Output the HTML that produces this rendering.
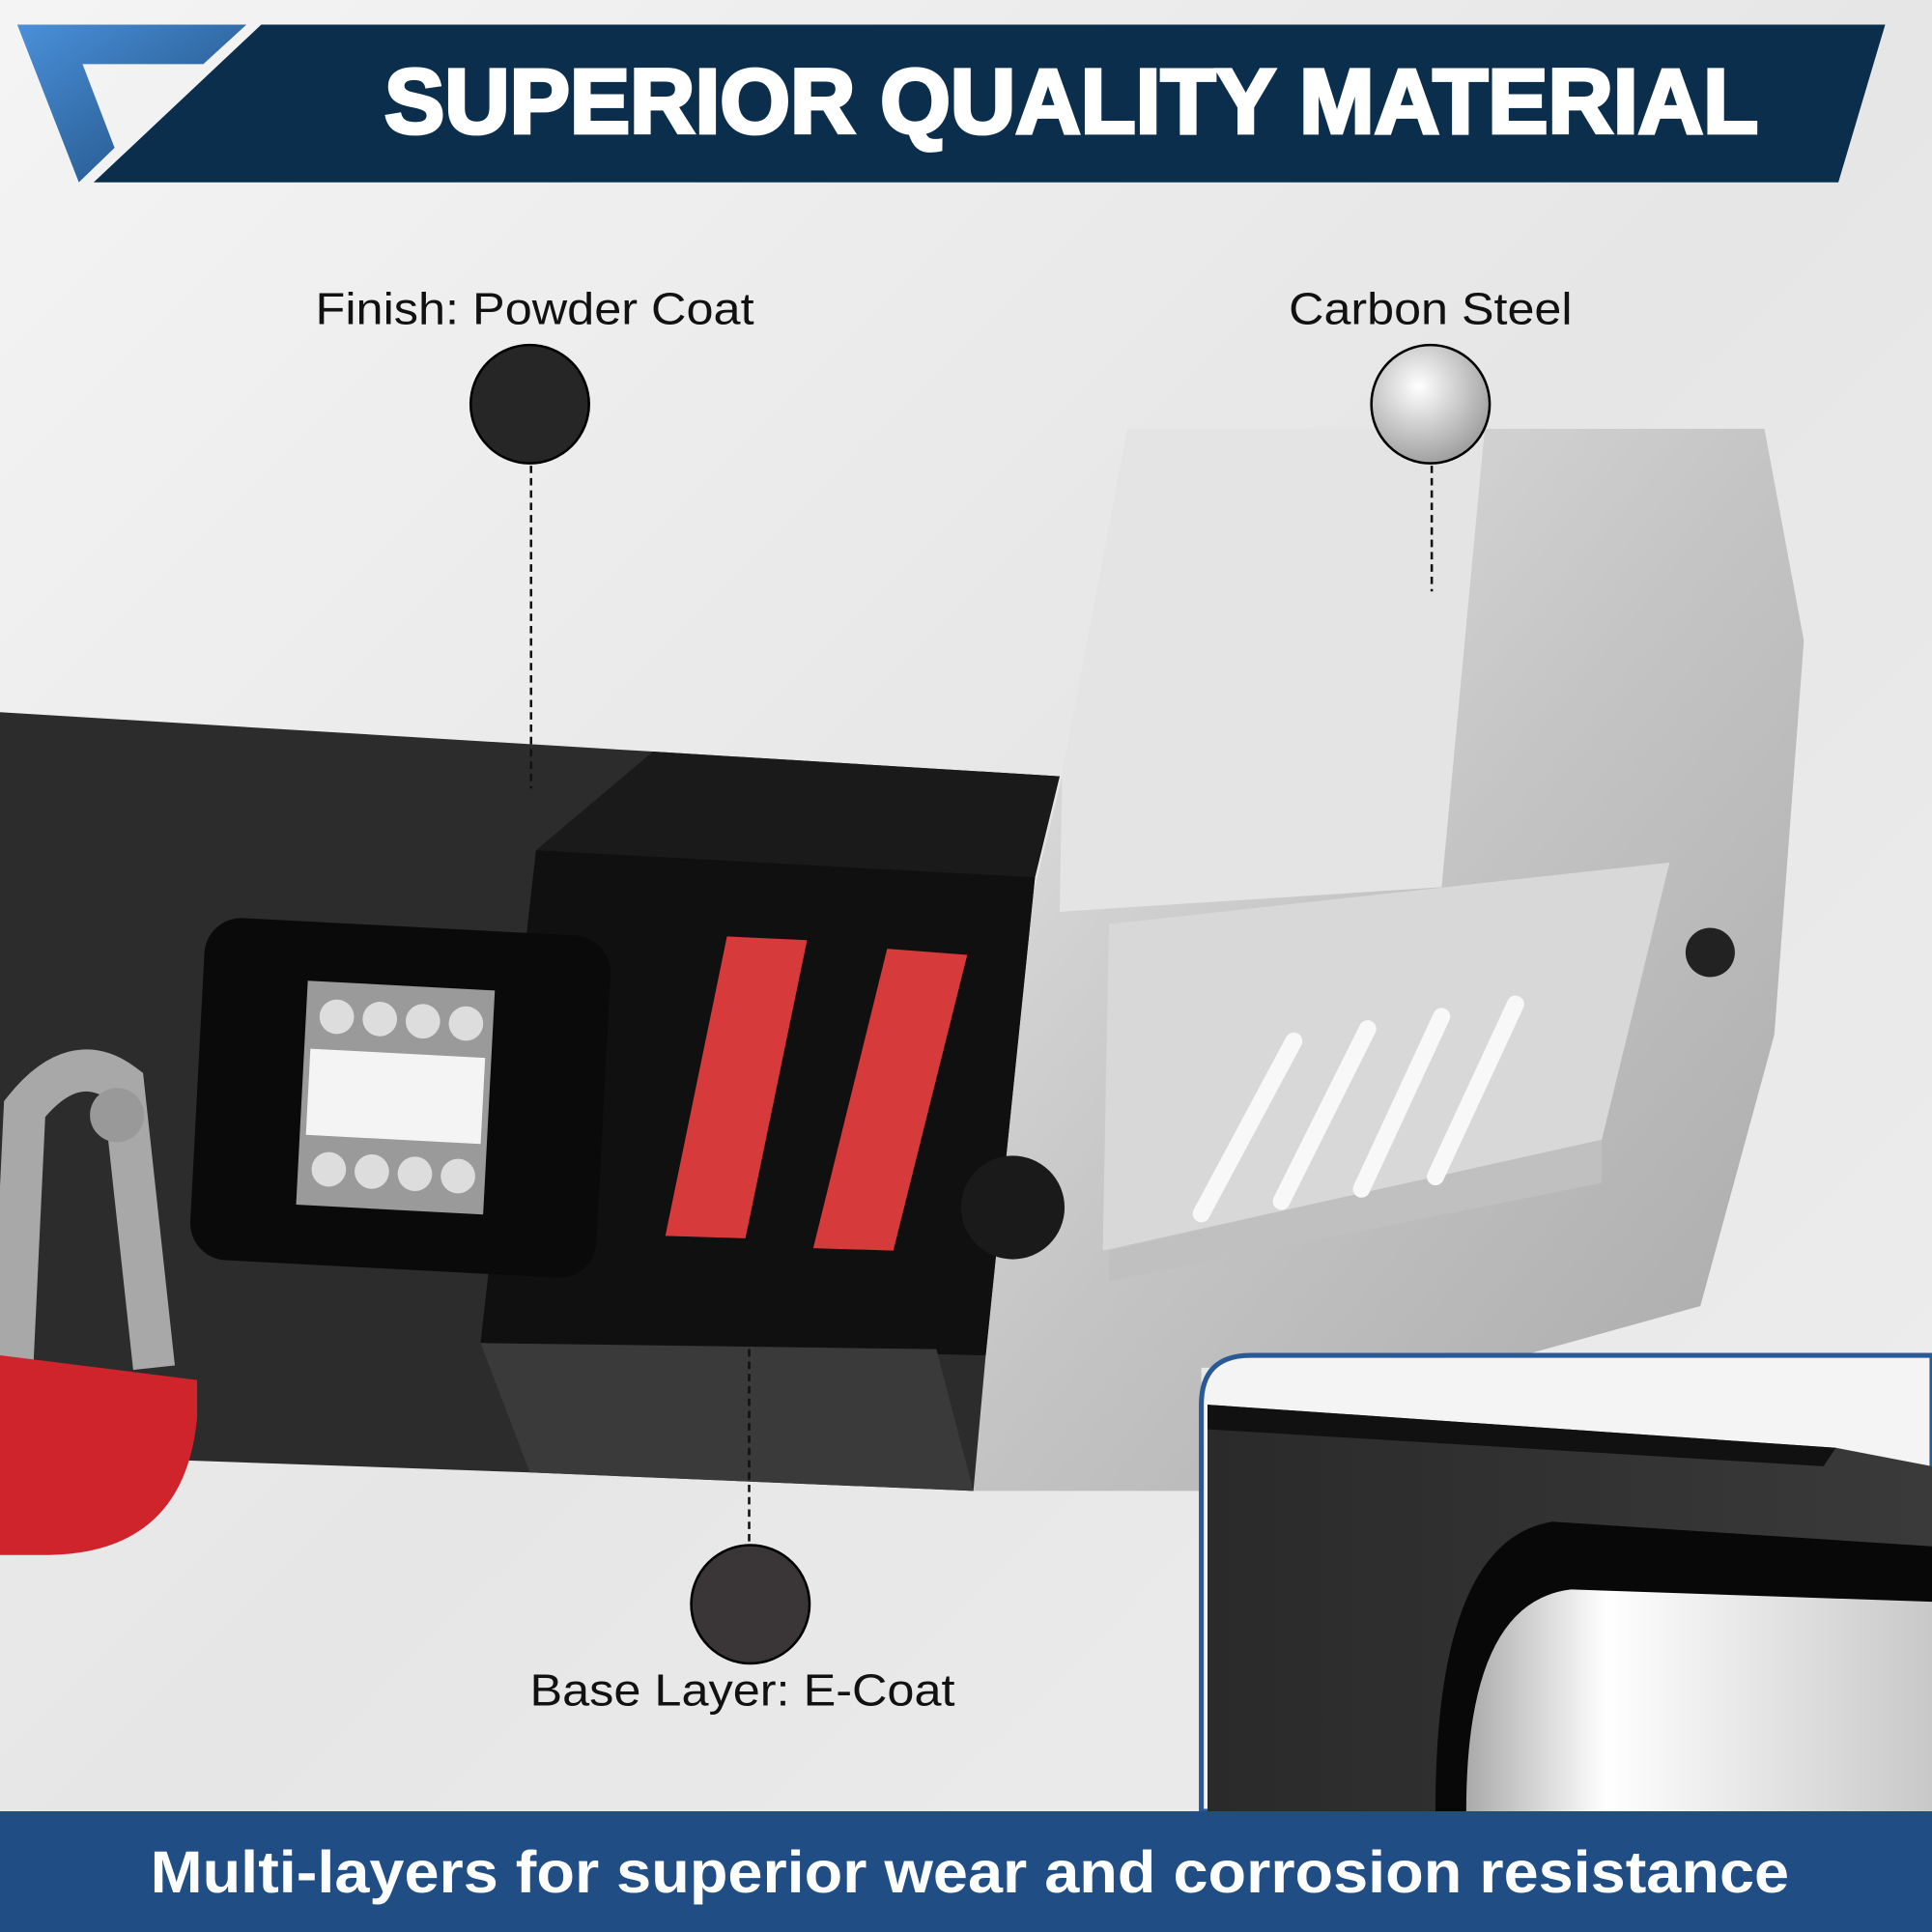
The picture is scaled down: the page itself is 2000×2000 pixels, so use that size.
<!DOCTYPE html>
<html><head><meta charset="utf-8"><style>html,body{margin:0;padding:0;background:#eee}svg{display:block}</style></head>
<body>
<svg width="2000" height="2000" viewBox="0 0 1568 1568" xmlns="http://www.w3.org/2000/svg">
<defs>
<linearGradient id="bg" x1="0" y1="0" x2="1" y2="1"><stop offset="0" stop-color="#f4f4f4"/><stop offset="0.5" stop-color="#e6e6e6"/><stop offset="1" stop-color="#eeeeee"/></linearGradient>
<linearGradient id="blue" x1="0" y1="0" x2="1" y2="1"><stop offset="0" stop-color="#4a90d9"/><stop offset="1" stop-color="#1c4a7a"/></linearGradient>
<linearGradient id="silver" x1="0" y1="0" x2="1" y2="1"><stop offset="0" stop-color="#e8e8e8"/><stop offset="0.5" stop-color="#c4c4c4"/><stop offset="1" stop-color="#a8a8a8"/></linearGradient>
<radialGradient id="c2" cx="0.4" cy="0.35" r="0.7"><stop offset="0" stop-color="#ffffff"/><stop offset="1" stop-color="#9a9a9a"/></radialGradient>
<linearGradient id="ins" x1="0" y1="0" x2="1" y2="0"><stop offset="0" stop-color="#2a2a2a"/><stop offset="1" stop-color="#3a3a3a"/></linearGradient>
<linearGradient id="chrome" x1="0" y1="0" x2="1" y2="0"><stop offset="0" stop-color="#aaa"/><stop offset="0.3" stop-color="#fff"/><stop offset="1" stop-color="#c8c8c8"/></linearGradient>
</defs>
<rect width="1568" height="1568" fill="url(#bg)"/>
<!-- header -->
<polygon points="14,20 200,20 165,52 67,52 93,120 64,148" fill="url(#blue)"/>
<polygon points="212,20 1530,20 1492,148 76,148" fill="#0b2e4c"/>
<text x="312" y="108" font-family="Liberation Sans, sans-serif" font-weight="bold" font-size="74" fill="#fff" stroke="#fff" stroke-width="3" textLength="1115" lengthAdjust="spacingAndGlyphs">SUPERIOR QUALITY MATERIAL</text>
<!-- silver part -->
<polygon points="915,348 1432,348 1464,520 1440,840 1380,1060 1200,1110 975,1110 975,1210 790,1210 760,1100 830,760 862,630" fill="url(#silver)"/>
<polygon points="915,348 1205,348 1170,720 860,740 862,630" fill="#e4e4e4"/>
<polygon points="900,750 1355,700 1300,925 895,1015" fill="#d8d8d8"/>
<polygon points="900,1015 1300,925 1300,960 900,1040" fill="#c0c0c0"/>
<g stroke="#f8f8f8" stroke-width="14" stroke-linecap="round" fill="none">
<path d="M975,985 L1050,845"/><path d="M1040,975 L1110,835"/><path d="M1105,965 L1170,825"/><path d="M1165,955 L1230,815"/>
</g>
<circle cx="1388" cy="773" r="20" fill="#222"/>
<!-- black bar -->
<polygon points="0,578 530,610 860,630 840,712 800,1100 790,1210 430,1195 0,1180" fill="#2c2c2c"/>
<polygon points="530,610 860,630 840,712 435,690" fill="#1a1a1a"/>
<polygon points="435,690 840,712 800,1100 390,1090" fill="#101010"/>
<polygon points="390,1090 760,1095 790,1210 430,1195" fill="#3a3a3a"/>
<!-- light module -->
<g transform="rotate(3 325 890)">
<rect x="160" y="752" width="330" height="278" rx="30" fill="#0a0a0a"/>
<rect x="245" y="800" width="152" height="182" fill="#9a9a9a"/>
<rect x="250" y="855" width="142" height="70" fill="#f4f4f4"/>
<circle cx="270" cy="828" r="14" fill="#ddd"/><circle cx="305" cy="828" r="14" fill="#ddd"/><circle cx="340" cy="828" r="14" fill="#ddd"/><circle cx="375" cy="828" r="14" fill="#ddd"/>
<circle cx="270" cy="952" r="14" fill="#ddd"/><circle cx="305" cy="952" r="14" fill="#ddd"/><circle cx="340" cy="952" r="14" fill="#ddd"/><circle cx="375" cy="952" r="14" fill="#ddd"/>
</g>
<!-- red bars -->
<polygon points="590,760 655,763 605,1005 540,1003" fill="#d63a3a"/>
<polygon points="720,770 785,775 725,1015 660,1013" fill="#d63a3a"/>
<circle cx="822" cy="980" r="42" fill="#1a1a1a"/>
<!-- shackle -->
<path d="M10,1110 L20,900 Q60,850 100,880 L125,1110" fill="none" stroke="#a8a8a8" stroke-width="34"/>
<circle cx="95" cy="905" r="22" fill="#999"/>
<path d="M0,1100 L160,1120 L160,1150 Q150,1260 40,1262 L0,1262 Z" fill="#d0242c"/>
<!-- callouts -->
<g font-family="Liberation Sans, sans-serif" font-size="36" fill="#111">
<text x="256" y="263" textLength="356" lengthAdjust="spacingAndGlyphs">Finish: Powder Coat</text>
<text x="1046" y="263" textLength="230" lengthAdjust="spacingAndGlyphs">Carbon Steel</text>
<text x="430" y="1384" textLength="345" lengthAdjust="spacingAndGlyphs">Base Layer: E-Coat</text>
</g>
<g stroke="#111" stroke-width="2" stroke-dasharray="6,4">
<line x1="431" y1="378" x2="431" y2="640"/>
<line x1="1162" y1="378" x2="1162" y2="480"/>
<line x1="608" y1="1025" x2="608" y2="1252"/>
</g>
<circle cx="430" cy="328" r="48" fill="#262626" stroke="#000" stroke-width="2"/>
<circle cx="1161" cy="328" r="48" fill="url(#c2)" stroke="#000" stroke-width="2"/>
<circle cx="609" cy="1302" r="48" fill="#3a3638" stroke="#000" stroke-width="2"/>
<!-- inset -->
<path d="M975,1470 L975,1140 Q975,1100 1015,1100 L1568,1100 L1568,1470 Z" fill="#f4f4f4" stroke="#2a5a94" stroke-width="4"/>
<polygon points="980,1140 1490,1175 1568,1190 1568,1470 980,1470" fill="url(#ins)"/>
<polygon points="980,1140 1490,1175 1480,1190 980,1160" fill="#111"/>
<path d="M1165,1470 Q1165,1250 1260,1235 L1568,1255 L1568,1470 Z" fill="#080808"/>
<path d="M1190,1470 Q1190,1300 1275,1290 L1568,1300 L1568,1470 Z" fill="url(#chrome)"/>
<!-- bottom band -->
<rect x="0" y="1470" width="1568" height="98" fill="#1f4d84"/>
<text x="122" y="1536" font-family="Liberation Sans, sans-serif" font-weight="bold" font-size="48" fill="#fff" textLength="1330" lengthAdjust="spacingAndGlyphs">Multi-layers for superior wear and corrosion resistance</text>
</svg>
</body></html>
